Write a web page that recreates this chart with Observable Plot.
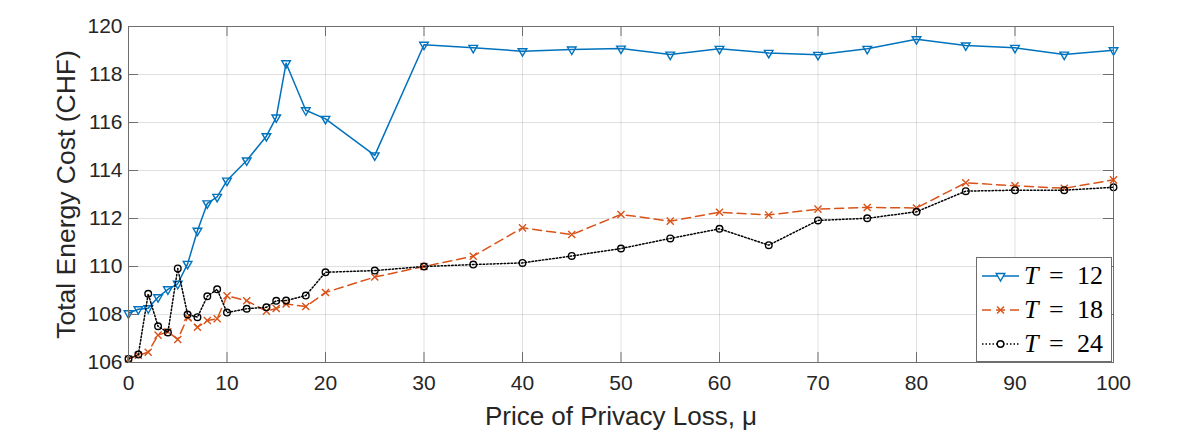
<!DOCTYPE html>
<html>
<head>
<meta charset="utf-8">
<script src="https://cdn.jsdelivr.net/npm/d3@7"></script>
<script src="https://cdn.jsdelivr.net/npm/@observablehq/plot@0.6"></script>
<style>
  html, body { margin: 0; padding: 0; background: #fff; }
  #wrap { position: relative; width: 1196px; height: 430px; overflow: hidden; }
  #legend {
    position: absolute; left: 976px; top: 257px; width: 136px; height: 105px;
    box-sizing: border-box; border: 1px solid #6e6e6e; background: #fff;
    font-family: "Liberation Serif", "Times New Roman", serif; color: #000;
  }
  .entry { position: absolute; left: 0; height: 30px; display: flex; align-items: center; }
  .entry svg { display: block; }
  .lbl { font-size: 26px; line-height: 30px; white-space: nowrap; margin-left: 3px; }
  .lbl i { display: inline-block; width: 25px; }
  .lbl .eq { display: inline-block; width: 28px; }
</style>
</head>
<body>
<div id="wrap"></div>
<script>
// ---- data ----
const mu = [0, 1, 2, 3, 4, 5, 6, 7, 8, 9, 10, 12, 14, 15, 16, 18, 20,
            25, 30, 35, 40, 45, 50, 55, 60, 65, 70, 75, 80, 85, 90, 95, 100];
const costT12 = [108.05, 108.22, 108.26, 108.72, 109.05, 109.28, 110.11, 111.49, 112.63, 112.90, 113.58,
                 114.42, 115.43, 116.21, 118.47, 116.51, 116.15,
                 114.63, 119.24, 119.11, 118.97, 119.04, 119.08, 118.83, 119.07, 118.90, 118.82, 119.07,
                 119.47, 119.21, 119.11, 118.83, 119.01];
const costT18 = [106.15, 106.30, 106.43, 107.14, 107.28, 106.96, 107.89, 107.47, 107.75, 107.82, 108.78,
                 108.57, 108.14, 108.25, 108.44, 108.33, 108.92,
                 109.56, 110.00, 110.43, 111.61, 111.33, 112.17, 111.89, 112.26, 112.15, 112.39, 112.46,
                 112.44, 113.49, 113.36, 113.26, 113.61];
const costT24 = [106.15, 106.33, 108.86, 107.51, 107.25, 109.92, 108.00, 107.89, 108.76, 109.05, 108.08,
                 108.24, 108.30, 108.57, 108.58, 108.79, 109.76,
                 109.83, 110.00, 110.08, 110.15, 110.44, 110.75, 111.17, 111.57, 110.89, 111.92, 112.01,
                 112.28, 113.14, 113.18, 113.18, 113.30];
const seriesNames = ["12", "18", "24"];
const xTicks = [0, 10, 20, 30, 40, 50, 60, 70, 80, 90, 100];
const yTicks = [106, 108, 110, 112, 114, 116, 118, 120];
const xLabel = "Price of Privacy Loss, μ";
const yLabel = "Total Energy Cost (CHF)";

// ---- styles ----
const styles = [
  {stroke: "#0072BD", dash: null, symbol: "triangle", rotate: 180, r: 3.2},
  {stroke: "#D95319", dash: "9,5", symbol: "times", rotate: 0, r: 3.3},
  {stroke: "#000000", dash: "1.5,2", symbol: "circle", rotate: 0, r: 3.3}
];
const seriesValues = [costT12, costT18, costT24];
const tables = seriesValues.map(vals => mu.map((m, i) => ({mu: m, cost: vals[i]})));

const axisGray = "#6e6e6e";
const W = 1196, H = 430, ML = 128, MR = 83, MT = 26, MB = 68;
const frameW = W - ML - MR, frameH = H - MT - MB, tickLen = 10;

const marks = [
  Plot.gridX(xTicks, {stroke: "#000", strokeOpacity: 0.12}),
  Plot.gridY(yTicks, {stroke: "#000", strokeOpacity: 0.12}),
];
tables.forEach((t, k) => {
  const s = styles[k];
  marks.push(Plot.line(t, {x: "mu", y: "cost", stroke: s.stroke, strokeWidth: 1.5,
                           strokeDasharray: s.dash, curve: "linear"}));
  marks.push(Plot.dot(t, {x: "mu", y: "cost", stroke: s.stroke, fill: "none", strokeWidth: 1.4,
                          symbol: s.symbol, r: s.r, rotate: s.rotate}));
});
marks.push(
  Plot.tickX(xTicks, {x: d => d, stroke: axisGray, insetTop: frameH - tickLen}),
  Plot.tickX(xTicks, {x: d => d, stroke: axisGray, insetBottom: frameH - tickLen}),
  Plot.tickY(yTicks, {y: d => d, stroke: axisGray, insetRight: frameW - tickLen}),
  Plot.tickY(yTicks, {y: d => d, stroke: axisGray, insetLeft: frameW - tickLen}),
  Plot.frame({stroke: axisGray, strokeWidth: 1}),
  Plot.axisX({ticks: xTicks, tickSize: 0, tickPadding: 13, fontSize: 21, label: null, tickFormat: d => String(d)}),
  Plot.axisY({ticks: yTicks, tickSize: 0, tickPadding: 6, fontSize: 21, label: null, tickFormat: d => String(d)}),
  Plot.text([xLabel], {text: d => d, frameAnchor: "bottom", textAnchor: "middle", lineAnchor: "bottom", dy: 62, fontSize: 26, fill: "#262626"}),
  Plot.text([yLabel], {text: d => d, frameAnchor: "left", textAnchor: "middle", rotate: -90, dx: -62, fontSize: 26.5, fill: "#262626"})
);

const chart = Plot.plot({
  width: W, height: H,
  marginLeft: ML, marginRight: MR, marginTop: MT, marginBottom: MB,
  x: {domain: [0, 100]},
  y: {domain: [106, 120]},
  style: {fontFamily: "'Liberation Sans', Arial, Helvetica, sans-serif", color: "#262626", background: "#fff", overflow: "visible"},
  marks
});
const wrap = document.getElementById("wrap");
wrap.appendChild(chart);

// ---- legend ----
const legend = document.createElement("div");
legend.id = "legend";
wrap.appendChild(legend);
const entryTops = [3, 37, 71];
seriesNames.forEach((name, k) => {
  const s = styles[k];
  const e = document.createElement("div");
  e.className = "entry";
  e.style.top = entryTops[k] + "px";
  const svg = d3.create("svg").attr("width", 44).attr("height", 30);
  svg.append("line").attr("x1", 5).attr("x2", 42).attr("y1", 15).attr("y2", 15)
    .attr("stroke", s.stroke).attr("stroke-width", 1.5)
    .attr("stroke-dasharray", s.dash);
  const sym = {triangle: d3.symbolTriangle, times: d3.symbolTimes, circle: d3.symbolCircle}[s.symbol];
  svg.append("path").attr("d", d3.symbol(sym, Math.PI * s.r * s.r)())
    .attr("transform", `translate(23.5,15) rotate(${s.rotate})`)
    .attr("fill", "#fff").attr("stroke", s.stroke).attr("stroke-width", 1.4);
  e.appendChild(svg.node());
  const lbl = document.createElement("span");
  lbl.className = "lbl";
  lbl.innerHTML = `<i>T</i><span class="eq">=</span>${name}`;
  e.appendChild(lbl);
  legend.appendChild(e);
});
</script>
</body>
</html>
